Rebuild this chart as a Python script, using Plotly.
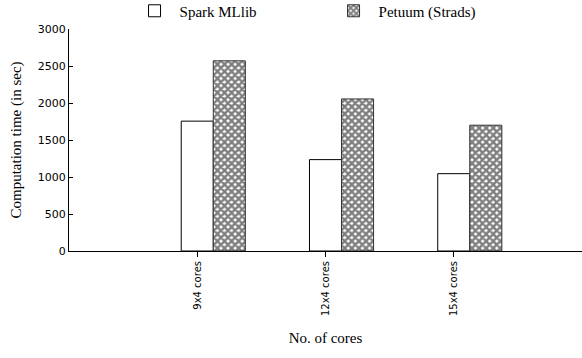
import plotly.graph_objects as go

categories = ["9x4 cores", "12x4 cores", "15x4 cores"]
spark_mllib = [1755, 1235, 1045]
petuum_strads = [2570, 2055, 1700]
y_tick_values = [0, 500, 1000, 1500, 2000, 2500, 3000]
top_tick_positions = [-0.15, 0.75, 1.64]

fig = go.Figure()
fig.add_trace(go.Bar(
    x=categories, y=spark_mllib, name="Spark MLlib",
    width=0.25, offset=-0.125,
    marker=dict(color="white", line=dict(color="black", width=1)),
))
fig.add_trace(go.Bar(
    x=categories, y=petuum_strads, name="Petuum (Strads)",
    width=0.25, offset=0.125,
    marker=dict(color="white", line=dict(color="#333333", width=1),
                pattern=dict(shape="x", fgcolor="black", bgcolor="white",
                             size=5, solidity=0.72)),
))

tick_font = dict(family="DejaVu Sans", size=11, color="black")
serif = dict(family="Liberation Serif", size=15, color="black")

fig.update_layout(
    width=582, height=358,
    margin=dict(l=69, r=0, t=29, b=107, autoexpand=False),
    plot_bgcolor="white", paper_bgcolor="white",
    barmode="overlay",
    showlegend=True,
    legend=dict(orientation="h", x=0.118, xanchor="left", y=1.081, yanchor="middle",
                font=serif, bgcolor="rgba(0,0,0,0)", itemwidth=40,
                entrywidth=144, entrywidthmode="pixels",
                traceorder="normal"),
    xaxis=dict(
        type="category", range=[-1, 3], automargin=False,
        showline=True, linecolor="black", linewidth=1,
        ticks="outside", ticklen=5, tickcolor="black",
        tickangle=-90, tickfont=dict(family="DejaVu Sans", size=10, color="black"),
        showgrid=False, zeroline=False,
        title=dict(text="No. of cores", font=serif, standoff=17),
    ),
    xaxis2=dict(
        overlaying="x", side="top", range=[-1, 3], automargin=False,
        showline=True, linecolor="black", linewidth=1,
        ticks="outside", ticklen=5, tickcolor="black",
        tickvals=top_tick_positions, showticklabels=False,
        showgrid=False, zeroline=False,
    ),
    yaxis=dict(
        range=[0, 3000], tickvals=y_tick_values, automargin=False,
        showline=True, linecolor="black", linewidth=1,
        ticks="inside", ticklen=4, tickcolor="black",
        tickfont=tick_font, showgrid=False, zeroline=False,
        title=dict(text="Computation time (in sec)", font=serif, standoff=12),
    ),
    yaxis2=dict(
        overlaying="y", side="right", range=[0, 3000], tickvals=y_tick_values,
        automargin=False,
        showline=False, ticks="inside", ticklen=4, tickcolor="black",
        showticklabels=False, showgrid=False, zeroline=False,
    ),
)

fig.write_html("out.html", config={"displayModeBar": False},
               post_script="document.body.style.margin='0px';document.body.style.overflow='hidden';")
